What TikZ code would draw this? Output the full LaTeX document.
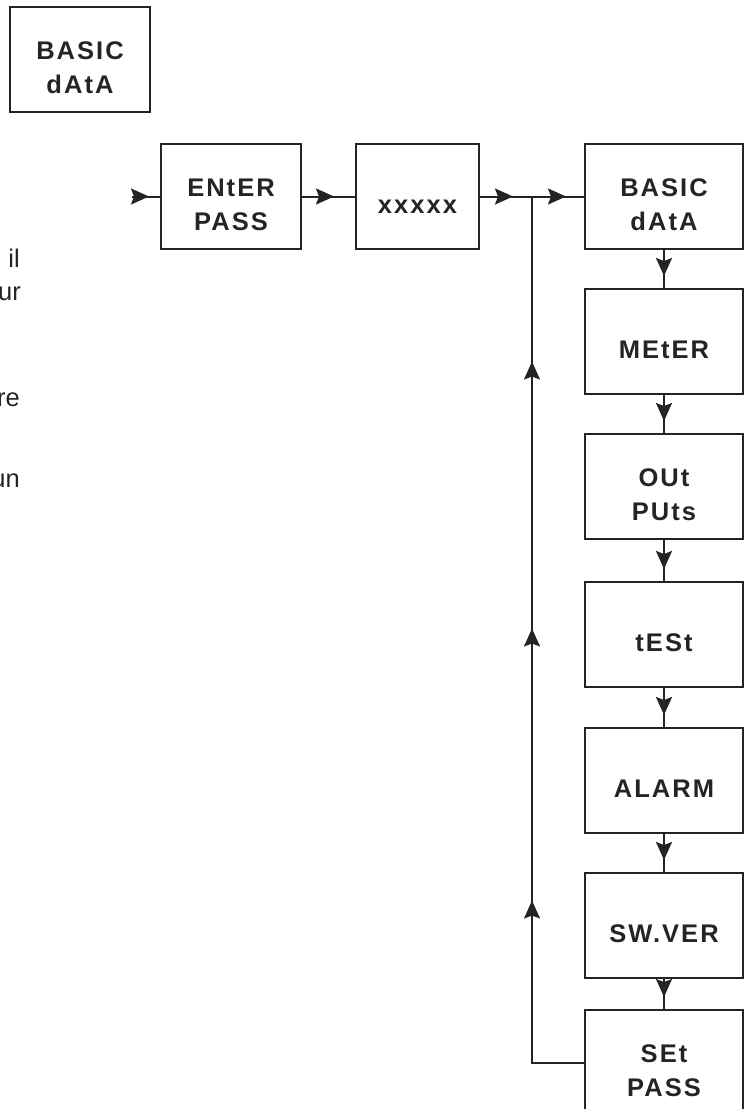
\documentclass[tikz,border=0pt]{standalone}
\usepackage{fontspec}
\setmainfont{Liberation Sans}
\usetikzlibrary{arrows.meta,decorations.markings}
\definecolor{ink}{RGB}{36,36,36}

\tikzset{
  menubox/.style={draw=ink, line width=2pt, inner sep=0pt, align=center,
    minimum width=158pt, minimum height=105pt, text=ink, text height=34pt,
    font=\fontsize{25.5}{34}\selectfont\bfseries\addfontfeature{LetterSpace=8}},
  twoline/.style={text height=68pt},
  flow/.style={draw=ink, line width=2pt},
  tipat/.style={postaction={decorate}, decoration={markings,
    mark=at position #1 with {\arrow{Stealth[length=18pt,width=16pt,inset=3pt]}}}},
  cuttext/.style={anchor=base east, inner sep=0pt, text=ink,
    font=\fontsize{25.5}{34}\selectfont},
}

\begin{document}
\begin{tikzpicture}[x=1pt, y=-1pt]
  \clip (0,0) rectangle (746,1109);
  % title box
  \node[menubox, twoline, minimum width=140pt] (title) at (80,59.5) {BASIC\\dAtA};
  % cut-off text on the left
  \node[cuttext] (t1) at (20,267) {il};
  \node[cuttext] (t2) at (21,300) {ur};
  \node[cuttext] (t3) at (20,406) {re};
  \node[cuttext] (t4) at (20,487) {un};
  % password row
  \coordinate (in) at (132,196.5);
  \node[menubox, twoline, minimum width=140pt] (enter) at (231,196.5) {ENtER\\PASS};
  \node[menubox, minimum width=123pt] (code) at (417.5,196.5) {xxxxx};
  \coordinate (jn) at (532,196.5);
  % menu column
  \node[menubox, twoline] (basic)   at (664,196.5)  {BASIC\\dAtA};
  \node[menubox]          (meter)   at (664,341.5)  {MEtER};
  \node[menubox, twoline] (outputs) at (664,486.5)  {OUt\\PUts};
  \node[menubox]          (test)    at (664,634.5)  {tESt};
  \node[menubox]          (alarm)   at (664,780.5)  {ALARM};
  \node[menubox]          (swver)   at (664,925.5)  {SW.VER};
  \node[menubox, twoline] (setpass) at (664,1062.5) {SEt\\PASS};
  % connectors
  \draw[flow, tipat=-11pt] (in) -- (enter);
  \draw[flow, tipat=-21pt] (enter) -- (code);
  \draw[flow, tipat=-19pt] (code) -- (jn);
  \draw[flow, tipat=-18pt] (jn) -- (basic);
  \foreach \a/\b in {basic/meter, meter/outputs, outputs/test,
                     test/alarm, alarm/swver, swver/setpass}
    \draw[flow, tipat=-12pt] (\a) -- (\b);
  % loop back
  \draw[flow, postaction={decorate}, decoration={markings,
      mark=at position 214pt with {\arrow{Stealth[length=18pt,width=16pt,inset=3pt]}},
      mark=at position 486pt with {\arrow{Stealth[length=18pt,width=16pt,inset=3pt]}},
      mark=at position 753pt with {\arrow{Stealth[length=18pt,width=16pt,inset=3pt]}}}]
    (setpass.west) -| (jn);
\end{tikzpicture}
\end{document}
